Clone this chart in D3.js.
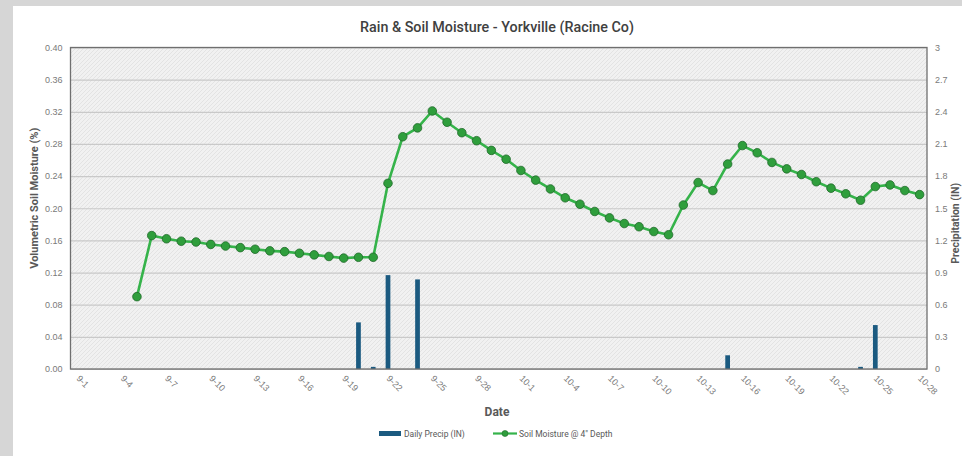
<!DOCTYPE html>
<html>
<head>
<meta charset="UTF-8">
<title>Rain & Soil Moisture</title>
<script src="https://cdn.jsdelivr.net/npm/d3@7"></script>
<style>
  html, body { margin: 0; padding: 0; background: #d6d6d6; }
  svg { display: block; }
</style>
</head>
<body>
<div id="chart"></div>
<script>
// categories: one per day, 9-1 .. 10-28
const dates = [
  "9-1","9-2","9-3","9-4","9-5","9-6","9-7","9-8","9-9","9-10",
  "9-11","9-12","9-13","9-14","9-15","9-16","9-17","9-18","9-19","9-20",
  "9-21","9-22","9-23","9-24","9-25","9-26","9-27","9-28","9-29","9-30",
  "10-1","10-2","10-3","10-4","10-5","10-6","10-7","10-8","10-9","10-10",
  "10-11","10-12","10-13","10-14","10-15","10-16","10-17","10-18","10-19","10-20",
  "10-21","10-22","10-23","10-24","10-25","10-26","10-27","10-28"
]

// soil moisture @ 4" depth (left axis), null = no reading
const soilMoisture = [
  null, null, null, null, 0.090, 0.166, 0.162, 0.159, 0.158, 0.155,
  0.153, 0.151, 0.149, 0.147, 0.146, 0.144, 0.142, 0.140, 0.138, 0.139,
  0.139, 0.231, 0.289, 0.300, 0.321, 0.307, 0.294, 0.284, 0.272, 0.261,
  0.247, 0.235, 0.224, 0.213, 0.205, 0.196, 0.188, 0.181, 0.177, 0.171,
  0.167, 0.204, 0.232, 0.222, 0.255, 0.278, 0.269, 0.257, 0.249, 0.242,
  0.233, 0.225, 0.218, 0.210, 0.227, 0.229, 0.222, 0.217
]

// daily precip in inches (right axis)
const dailyPrecip = [
  0, 0, 0, 0, 0, 0, 0, 0, 0, 0,
  0, 0, 0, 0, 0, 0, 0, 0, 0, 0.435,
  0.02, 0.876, 0, 0.836, 0, 0, 0, 0, 0, 0,
  0, 0, 0, 0, 0, 0, 0, 0, 0, 0,
  0, 0, 0, 0, 0.128, 0, 0, 0, 0, 0,
  0, 0, 0, 0.02, 0.41, 0, 0, 0
]

const leftTicks = [0, 0.04, 0.08, 0.12, 0.16, 0.20, 0.24, 0.28, 0.32, 0.36, 0.40]
const rightTicks = [0, 0.3, 0.6, 0.9, 1.2, 1.5, 1.8, 2.1, 2.4, 2.7, 3]
const shownDates = dates.filter((d, i) => i % 3 === 0)

const W = 962, H = 456
const plot = { left: 70.5, right: 927, top: 47.5, bottom: 369 }

const svg = d3.select("#chart").append("svg")
  .attr("width", W).attr("height", H)
  .style("font-family", "Roboto, 'Open Sans', sans-serif")

// hatched plot fill
const defs = svg.append("defs")
const pat = defs.append("pattern")
  .attr("id", "hatch").attr("patternUnits", "userSpaceOnUse")
  .attr("width", 4).attr("height", 4)
pat.append("rect").attr("width", 4).attr("height", 4).attr("fill", "#f1f1f1")
pat.append("path").attr("d", "M0,4 L4,0 M-1,1 L1,-1 M3,5 L5,3")
  .attr("stroke", "#e0e0e0").attr("stroke-width", 0.8)

// card
svg.append("rect")
  .attr("x", 13).attr("y", 6).attr("width", W - 13).attr("height", H - 6)
  .attr("fill", "#ffffff")

const x = d3.scaleBand().domain(dates).range([plot.left, plot.right]).paddingInner(0.68).paddingOuter(0.34)
const xc = d => x(d) + x.bandwidth() / 2
const y = d3.scaleLinear().domain([0, 0.4]).range([plot.bottom, plot.top])
const y2 = d3.scaleLinear().domain([0, 3]).range([plot.bottom, plot.top])

svg.append("rect")
  .attr("x", plot.left).attr("y", plot.top)
  .attr("width", plot.right - plot.left).attr("height", plot.bottom - plot.top)
  .attr("fill", "url(#hatch)")

// gridlines
svg.append("g")
  .attr("transform", `translate(${plot.left},0)`)
  .call(d3.axisLeft(y).tickValues(leftTicks).tickSize(-(plot.right - plot.left)).tickFormat(""))
  .call(g => g.select(".domain").remove())
  .call(g => g.selectAll("line").attr("stroke", "#c9c9c9").attr("stroke-width", 1.2))

// left axis labels
svg.append("g")
  .attr("transform", `translate(${plot.left},0)`)
  .call(d3.axisLeft(y).tickValues(leftTicks).tickSize(0).tickPadding(8).tickFormat(d3.format(".2f")))
  .call(g => g.select(".domain").remove())
  .call(g => g.selectAll("text").attr("fill", "#7a7a7a").style("font-size", "9px"))

// right axis labels
svg.append("g")
  .attr("transform", `translate(${plot.right},0)`)
  .call(d3.axisRight(y2).tickValues(rightTicks).tickSize(0).tickPadding(8).tickFormat(d => d3.format("")(+d.toFixed(1))))
  .call(g => g.select(".domain").remove())
  .call(g => g.selectAll("text").attr("fill", "#7a7a7a").style("font-size", "9px"))

// x axis labels, every third day
svg.append("g")
  .attr("transform", `translate(0,${plot.bottom})`)
  .call(d3.axisBottom(x).tickValues(shownDates).tickSize(0).tickPadding(0))
  .call(g => g.select(".domain").remove())
  .call(g => g.selectAll("text")
    .attr("fill", "#7a7a7a").style("font-size", "9px")
    .attr("text-anchor", "start")
    .attr("dy", null).attr("y", null)
    .attr("transform", "translate(-2,10) rotate(45)"))

// bars
svg.append("g").selectAll("rect")
  .data(dates.map((d, i) => ({ d, v: dailyPrecip[i] })).filter(p => p.v > 0))
  .join("rect")
  .attr("x", p => x(p.d))
  .attr("width", x.bandwidth())
  .attr("y", p => y2(p.v))
  .attr("height", p => y2(0) - y2(p.v))
  .attr("fill", "#1b5a80")

// plot border
svg.append("rect")
  .attr("x", plot.left).attr("y", plot.top)
  .attr("width", plot.right - plot.left).attr("height", plot.bottom - plot.top)
  .attr("fill", "none").attr("stroke", "#6f6f6f").attr("stroke-width", 1.3)

// soil moisture line
const pts = dates.map((d, i) => ({ d, v: soilMoisture[i] })).filter(p => p.v != null)
svg.append("path")
  .datum(pts)
  .attr("fill", "none")
  .attr("stroke", "#35b34a")
  .attr("stroke-width", 2.6)
  .attr("d", d3.line().x(p => xc(p.d)).y(p => y(p.v)))

svg.append("g").selectAll("circle")
  .data(pts)
  .join("circle")
  .attr("cx", p => xc(p.d))
  .attr("cy", p => y(p.v))
  .attr("r", 4.3)
  .attr("fill", "#2f9e3c")
  .attr("stroke", "#1f6a2a")
  .attr("stroke-width", 0.8)

// titles
svg.append("text")
  .attr("x", 497).attr("y", 32)
  .attr("text-anchor", "middle")
  .attr("fill", "#404040")
  .style("font-size", "14px").style("font-weight", 500)
  .attr("textLength", 274).attr("lengthAdjust", "spacingAndGlyphs")
  .text("Rain & Soil Moisture - Yorkville (Racine Co)")

svg.append("text")
  .attr("transform", `translate(38,${(plot.top + plot.bottom) / 2 - 10}) rotate(-90)`)
  .attr("text-anchor", "middle")
  .attr("fill", "#595959")
  .style("font-size", "11px").style("font-weight", "bold")
  .text("Volumetric Soil Moisture (%)")

svg.append("text")
  .attr("transform", `translate(958.5,${(plot.top + plot.bottom) / 2 + 15}) rotate(-90)`)
  .attr("text-anchor", "middle")
  .attr("fill", "#595959")
  .style("font-size", "10.5px").style("font-weight", "bold")
  .text("Precipitation (IN)")

svg.append("text")
  .attr("x", 497).attr("y", 416)
  .attr("text-anchor", "middle")
  .attr("fill", "#595959")
  .style("font-size", "12px").style("font-weight", "bold")
  .text("Date")

// legend
const leg = svg.append("g").style("font-size", "8.5px").attr("fill", "#595959")
leg.append("rect").attr("x", 379).attr("y", 431).attr("width", 22).attr("height", 5).attr("fill", "#1b5a80")
leg.append("text").attr("x", 404).attr("y", 436.5).text("Daily Precip (IN)")
leg.append("line").attr("x1", 493).attr("x2", 517).attr("y1", 433.5).attr("y2", 433.5)
  .attr("stroke", "#35b34a").attr("stroke-width", 2.2)
leg.append("circle").attr("cx", 505).attr("cy", 433.5).attr("r", 3)
  .attr("fill", "#2f9e3c").attr("stroke", "#1f6a2a").attr("stroke-width", 0.6)
leg.append("text").attr("x", 519).attr("y", 436.5).text("Soil Moisture @ 4\" Depth")
</script>
</body>
</html>
